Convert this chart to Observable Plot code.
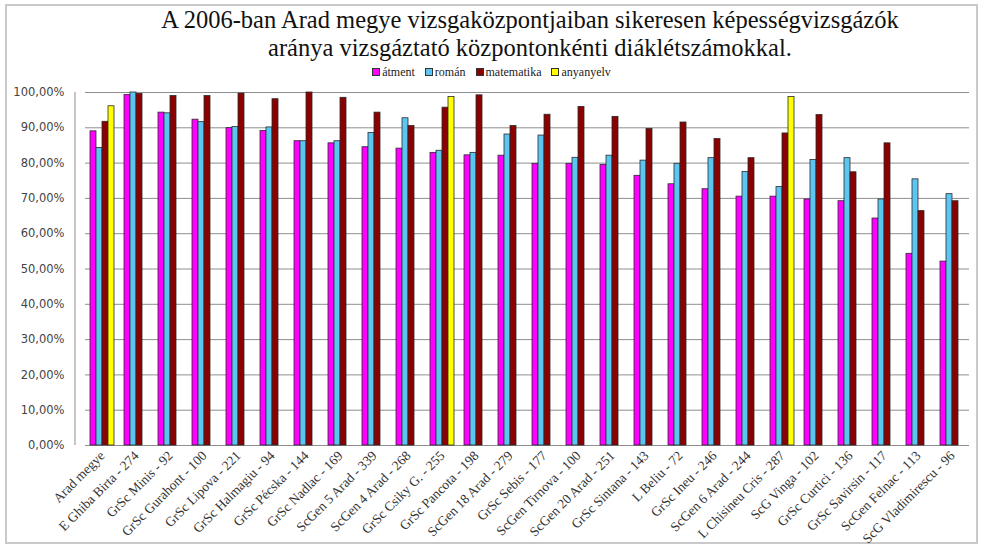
<!DOCTYPE html>
<html>
<head>
<meta charset="utf-8">
<script src="https://cdn.jsdelivr.net/npm/d3@7"></script>
<script src="https://cdn.jsdelivr.net/npm/@observablehq/plot@0.6"></script>
<style>
  html, body { margin: 0; padding: 0; background: #fff; }
  #wrap { position: relative; width: 983px; height: 550px; overflow: hidden; }
  #border { position: absolute; left: 5px; top: 4px; width: 973px; height: 540px; border: 2px solid #c9c9c9; box-sizing: border-box; }
  #title { position: absolute; left: 80px; width: 900px; top: 6px; text-align: center;
           font-family: "Liberation Serif", "Times New Roman", serif; font-size: 24.5px; line-height: 28px; color: #111; }
  #legend { position: absolute; top: 65px; left: 0; width: 983px; text-align: center;
            font-family: "Liberation Serif", "Times New Roman", serif; font-size: 12px; color: #222; }
  #legend span.item { margin: 0 5px; white-space: nowrap; }
  #legend span.sw { display: inline-block; width: 6px; height: 6px; border: 1px solid #333; margin-right: 2px; vertical-align: 0px; }
  #chart { position: absolute; left: 0; top: 80px; }
</style>
</head>
<body>
<div id="wrap">
  <div id="border"></div>
  <div id="title">A 2006-ban Arad megye vizsgaközpontjaiban sikeresen képességvizsgázók<br>aránya vizsgáztató központonkénti diáklétszámokkal.</div>
  <div id="legend"></div>
  <div id="chart"></div>
</div>
<script>
const categories = [
  "Arad megye", "E Ghiba Birta - 274", "GrSc Minis - 92", "GrSc Gurahont - 100", "GrSc Lipova - 221",
  "GrSc Halmagiu - 94", "GrSc Pécska - 144", "GrSc Nadlac - 169", "ScGen 5 Arad - 339", "ScGen 4 Arad - 268",
  "GrSc Csiky G. - 255", "GrSc Pancota - 198", "ScGen 18 Arad - 279", "GrSc Sebis - 177", "ScGen Tirnova - 100",
  "ScGen 20 Arad - 251", "GrSc Sintana - 143", "L Beliu - 72", "GrSc Ineu - 246", "ScGen 6 Arad - 244",
  "L Chisineu Cris - 287", "ScG Vinga - 102", "GrSc Curtici - 136", "GrSc Savirsin - 117", "ScGen Felnac - 113",
  "ScG Vladimirescu - 96"
];
const seriesNames = ["átment", "román", "matematika", "anyanyelv"];
const seriesColors = ["#ff00ff", "#5cc6f2", "#8b0000", "#ffff00"];

const atment     = [89.0, 99.3, 94.3, 92.3, 89.9, 89.1, 86.2, 85.6, 84.5, 84.1, 82.9, 82.2, 82.1, 79.8, 79.8, 79.5, 76.4, 74.0, 72.6, 70.5, 70.5, 69.7, 69.2, 64.3, 54.3, 52.1];
const roman      = [84.3, 100.0, 94.1, 91.6, 90.2, 90.1, 86.2, 86.2, 88.5, 92.7, 83.5, 82.9, 88.1, 87.8, 81.5, 82.1, 80.7, 79.8, 81.4, 77.5, 73.2, 80.9, 81.4, 69.7, 75.4, 71.2];
const matematika = [91.7, 99.6, 99.0, 99.0, 99.7, 98.1, 100.0, 98.5, 94.3, 90.5, 95.7, 99.2, 90.5, 93.7, 95.9, 93.1, 89.7, 91.5, 86.8, 81.4, 88.4, 93.6, 77.4, 85.6, 66.4, 69.2];
const anyanyelv  = [96.1, null, null, null, null, null, null, null, null, null, 98.7, null, null, null, null, null, null, null, null, null, 98.7, null, null, null, null, null];

const yTicks = [0, 10, 20, 30, 40, 50, 60, 70, 80, 90, 100];

const seriesValues = [atment, roman, matematika, anyanyelv];
const data = [];
categories.forEach((c, i) => {
  seriesNames.forEach((s, j) => {
    const v = seriesValues[j][i];
    if (v != null) data.push({cat: c, series: s, value: v});
  });
});

// legend
const legend = document.getElementById("legend");
seriesNames.forEach((s, j) => {
  const item = document.createElement("span");
  item.className = "item";
  const sw = document.createElement("span");
  sw.className = "sw";
  sw.style.background = seriesColors[j];
  item.appendChild(sw);
  item.appendChild(document.createTextNode(s));
  legend.appendChild(item);
});

const chart = Plot.plot({
  width: 983,
  height: 470,
  marginLeft: 75,
  marginRight: 5,
  marginTop: 12,
  marginBottom: 105,
  style: {background: "transparent", overflow: "visible"},
  fx: {domain: categories, padding: 0, label: null},
  x: {domain: seriesNames, paddingInner: 0, paddingOuter: 0.56, axis: null},
  y: {domain: [0, 100], label: null},
  color: {domain: seriesNames, range: seriesColors},
  marks: [
    Plot.gridY(yTicks, {stroke: "#8f8f8f", strokeOpacity: 1, strokeWidth: 1}),
    Plot.barY(data, {fx: "cat", x: "series", y: "value", fill: "series", stroke: "#2a2a2a", strokeWidth: 0.8}),
    Plot.axisY(yTicks, {
      tickSize: 0, tickPadding: 10, dx: -11, label: null,
      tickFormat: d => d.toFixed(2).replace(".", ",") + "%",
      fontFamily: "DejaVu Sans, Verdana, sans-serif", fontSize: 11.5, fill: "#444"
    }),
    Plot.axisFx({
      anchor: "bottom", tickSize: 0, tickPadding: 8, tickRotate: -45, label: null,
      fontFamily: "Liberation Serif, Times New Roman, serif", fontSize: 13.5, fill: "#333"
    })
  ]
});
document.getElementById("chart").appendChild(chart);

// y axis line along the frame's left edge, placed with the y scale
const ys = chart.scale("y");
d3.select(chart).append("line")
  .attr("x1", 75).attr("x2", 75)
  .attr("y1", ys.apply(0)).attr("y2", ys.apply(100))
  .attr("stroke", "#8f8f8f").attr("stroke-width", 1);
</script>
</body>
</html>
